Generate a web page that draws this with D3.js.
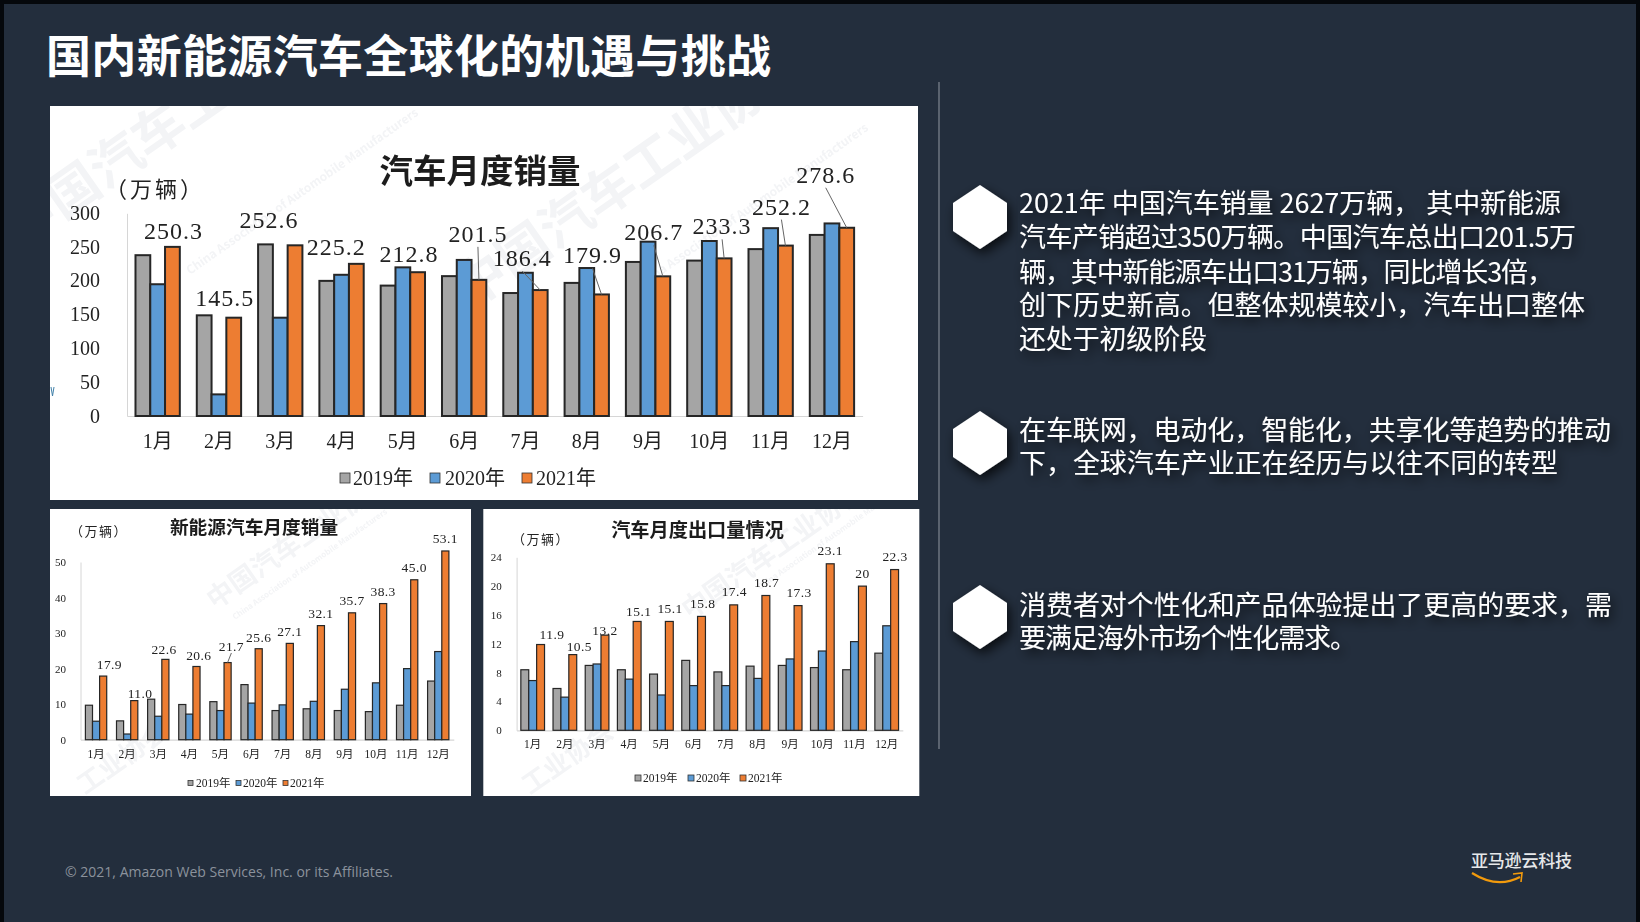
<!DOCTYPE html>
<html><head><meta charset="utf-8">
<script src="https://cdn.jsdelivr.net/npm/d3@7/dist/d3.min.js"></script>
<style>
html,body{margin:0;padding:0;background:#232e3d;overflow:hidden}
svg{display:block}
.serif{font-family:"Liberation Serif","Noto Sans CJK SC",serif}
.cjk{font-family:"Noto Sans CJK SC",sans-serif}
</style></head><body><svg id="c" width="1640" height="922"></svg>
<script>
const months=["1月","2月","3月","4月","5月","6月","7月","8月","9月","10月","11月","12月"];
const years=["2019年","2020年","2021年"];

const main2019=[238,149,254,200,193,207,182,197,228,230,247,268];
const main2020=[195,32,145.5,209,220,231,212,219,258,259,278,285];
const main2021=[250.3,145.5,252.6,225.2,212.8,201.5,186.4,179.9,206.7,233.3,252.2,278.6];
const mainTicks=[0,50,100,150,200,250,300];

const nev2019=[9.7,5.3,11.4,9.9,10.7,15.5,8.2,8.7,8.2,7.9,9.7,16.5];
const nev2020=[5.2,1.6,6.6,7.2,8.2,10.3,9.8,10.8,14.2,16,20,24.8];
const nev2021=[17.9,11.0,22.6,20.6,21.7,25.6,27.1,32.1,35.7,38.3,45.0,53.1];
const nevTicks=[0,10,20,30,40,50];

const exp2019=[8.4,5.8,9,8.4,7.8,9.7,8.1,8.9,9,8.7,8.4,10.7];
const exp2020=[6.9,4.6,9.2,7.1,4.9,6.2,6.2,7.2,9.9,11,12.3,14.5];
const exp2021=[11.9,10.5,13.2,15.1,15.1,15.8,17.4,18.7,17.3,23.1,20,22.3];
const expTicks=[0,4,8,12,16,20,24];

const mainLabels=["250.3","145.5","252.6","225.2","212.8","201.5","186.4","179.9","206.7","233.3","252.2","278.6"];
const nevLabels=["17.9","11.0","22.6","20.6","21.7","25.6","27.1","32.1","35.7","38.3","45.0","53.1"];
const expLabels=["11.9","10.5","13.2","15.1","15.1","15.8","17.4","18.7","17.3","23.1","20","22.3"];

const slideTitle="国内新能源汽车全球化的机遇与挑战";
const bullets=[
 ["2021年 中国汽车销量 2627万辆， 其中新能源","汽车产销超过350万辆。中国汽车总出口201.5万","辆，其中新能源车出口31万辆，同比增长3倍，","创下历史新高。但整体规模较小，汽车出口整体","还处于初级阶段"],
 ["在车联网，电动化，智能化，共享化等趋势的推动","下，全球汽车产业正在经历与以往不同的转型"],
 ["消费者对个性化和产品体验提出了更高的要求，需","要满足海外市场个性化需求。"]
];
const footer="© 2021, Amazon Web Services, Inc. or its Affiliates.";
const brand="亚马逊云科技";

// ---- layout ----
const colors=["#a5a5a5","#5b9bd5","#ed7d31"];
const bulletWidths=[[542,557,535,566,188],[592,539],[593,338]];
const bulletY=[[201,235,270,303,337],[428,461],[603,636]];
const hexY=[217,443,617];

const charts=[
 {panel:[50,106,868,394],series:[main2019,main2020,main2021],labels:mainLabels,ticks:mainTicks,
  yMax:300,xr:[127,862.6],yr:[416,213.3],pad:.277,stroke:2,
  dx:[1,-9,-26,-20,-8.5,-1,-18,-9,-9,-2,-4,-21],dy:[-16,-20,-25,-17,-18,-46,-32,-39,-44,-32,-39,-53],
  leaders:[5,6,7,8,9,10,11],leadGap:13,
  title:"汽车月度销量",tx:480,ty:171,tf:33.5,unit:"（万辆）",ux:155,uy:189,uf:22,ul:3,
  tickF:20,tickX:100,tickDy:-1,monF:20,monY:440.7,lblF:24,lblLs:1,
  legY:478,legF:20,sw:[340,430,522],swW:10,legX:[353,445,536],
  wm:[{t:"中国汽车工业协会",x:20,y:250,f:52,r:-35},{t:"中国汽车工业协会",x:470,y:310,f:52,r:-35},
      {t:"China Association of Automobile Manufacturers",x:190,y:275,f:12,r:-35},
      {t:"China Association of Automobile Manufacturers",x:640,y:290,f:12,r:-35}]},
 {panel:[50,509,421,287],series:[nev2019,nev2020,nev2021],labels:nevLabels,ticks:nevTicks,
  yMax:50,xr:[80.5,453.8],yr:[739.7,562],pad:.315,stroke:1.2,
  dx:[6.2,5.8,-1.3,2.3,3.8,0,0,0,0,0,0,0],dy:[-12,-7,-10,-11,-15.6,-11.7,-12,-12,-12,-12,-12,-12],
  leaders:[4],leadGap:6,
  title:"新能源汽车月度销量",tx:254,ty:527.7,tf:18.7,unit:"（万辆）",ux:99,uy:531,uf:13,ul:1.5,
  tickF:11,tickX:66,tickDy:-.5,monF:11.5,monY:754,lblF:13.5,lblLs:.4,
  legY:783,legF:11.5,sw:[188,236,283],swW:5,legX:[196,243,290],
  wm:[{t:"中国汽车工业协会",x:215,y:610,f:27,r:-35},{t:"工业协会",x:85,y:795,f:26,r:-35},
      {t:"China Association of Automobile Manufacturers",x:235,y:620,f:8,r:-35}]},
 {panel:[483.3,509,436,287],series:[exp2019,exp2020,exp2021],labels:expLabels,ticks:expTicks,
  yMax:24,xr:[516.6,902.8],yr:[730.3,557.3],pad:.264,stroke:1.2,
  dx:[11.4,6.5,0,1.6,.7,1.2,.6,.8,1,0,0,.4],dy:[-10.5,-8.3,-5,-9.5,-12.8,-12.7,-12.9,-12.8,-12.9,-12.8,-12.8,-12.9],
  leaders:[],leadGap:0,
  title:"汽车月度出口量情况",tx:697.5,ty:530,tf:19.2,unit:"（万辆）",ux:541,uy:539,uf:13,ul:1.5,
  tickF:11,tickX:501.7,tickDy:-.5,monF:11.5,monY:744,lblF:13.5,lblLs:.4,
  legY:778,legF:11.5,sw:[635,688,740],swW:6,legX:[643,696,748],
  wm:[{t:"中国汽车工业协会",x:690,y:620,f:27,r:-35},{t:"工业协会",x:530,y:795,f:26,r:-35},
      {t:"China Association of Automobile Manufacturers",x:760,y:590,f:8,r:-35}]}
];

const svg=d3.select("#c");
const defs=svg.append("defs");
defs.append("filter").attr("id","soft").attr("x","-2%").attr("y","-2%").attr("width","104%").attr("height","104%")
  .append("feGaussianBlur").attr("stdDeviation",.7);
const ds=defs.append("filter").attr("id","shadow").attr("x","-20%").attr("y","-40%").attr("width","140%").attr("height","200%");
ds.append("feDropShadow").attr("dx",3).attr("dy",5).attr("stdDeviation",6).attr("flood-color","#000").attr("flood-opacity",.75);

// background with dark slide edge (left, top, right)
svg.append("rect").attr("width",1640).attr("height",922).attr("fill","#05080c");
svg.append("rect").attr("x",4).attr("y",4).attr("width",1632).attr("height",918).attr("fill","#232e3d");

svg.append("text").attr("class","cjk").attr("x",46).attr("y",53.5).attr("dominant-baseline","central")
  .attr("font-size",45).attr("font-weight",700).attr("fill","#fff")
  .attr("textLength",725).text(slideTitle);

svg.append("line").attr("x1",939).attr("x2",939).attr("y1",82).attr("y2",749).attr("stroke","#7f8792").attr("stroke-width",1.2);

charts.forEach((c,ci)=>{
  const [px,py,pw,ph]=c.panel;
  const cid="clip"+ci;
  defs.append("clipPath").attr("id",cid).append("rect").attr("x",px).attr("y",py).attr("width",pw).attr("height",ph);
  const g=svg.append("g").attr("filter","url(#soft)");
  g.append("rect").attr("x",px).attr("y",py).attr("width",pw).attr("height",ph).attr("fill","#fff");

  const wm=g.append("g").attr("clip-path",`url(#${cid})`);
  c.wm.forEach(w=>wm.append("text").attr("class","cjk").attr("transform",`translate(${w.x},${w.y}) rotate(${w.r})`)
      .attr("font-size",w.f).attr("font-weight",700).attr("fill","#f3f4f6").text(w.t));

  const x=d3.scaleBand().domain(months).range(c.xr).paddingInner(c.pad).paddingOuter(c.pad/2);
  const x1=d3.scaleBand().domain(d3.range(3)).range([0,x.bandwidth()]);
  const y=d3.scaleLinear().domain([0,c.yMax]).range(c.yr);

  const ax=g.append("g").attr("transform",`translate(0,${c.yr[0]})`).call(d3.axisBottom(x).tickSize(0).tickPadding(0));
  ax.select(".domain").attr("stroke","#d6d6d6").attr("stroke-width",1.2);
  ax.selectAll("text").attr("class","serif").attr("font-size",c.monF).attr("fill","#222").attr("dy",0)
    .attr("y",c.monY-c.yr[0]).attr("dominant-baseline","central");

  const ay=g.append("g").attr("transform",`translate(${c.xr[0]},0)`).call(d3.axisLeft(y).tickValues(c.ticks).tickSize(0).tickPadding(0));
  ay.select(".domain").attr("stroke","#d6d6d6").attr("stroke-width",1);
  ay.selectAll("text").attr("class","serif").attr("font-size",c.tickF).attr("fill","#222").attr("dy",c.tickDy)
    .attr("x",c.tickX-c.xr[0]).attr("dominant-baseline","central");

  c.series.forEach((vals,si)=>{
    g.append("g").selectAll("rect").data(vals).join("rect")
      .attr("x",(d,i)=>x(months[i])+x1(si))
      .attr("width",x1.bandwidth())
      .attr("y",d=>y(d))
      .attr("height",d=>y(0)-y(d))
      .attr("fill",colors[si]).attr("stroke","#262626").attr("stroke-width",c.stroke);
  });

  const top=c.series[2];
  const bx=i=>x(months[i])+x1(2)+x1.bandwidth()/2;
  g.append("g").selectAll("line").data(c.leaders).join("line")
    .attr("x1",i=>bx(i)+c.dx[i]).attr("y1",i=>y(top[i])+c.dy[i]+c.leadGap)
    .attr("x2",i=>bx(i)).attr("y2",i=>y(top[i]))
    .attr("stroke","#666").attr("stroke-width",1);
  g.append("g").selectAll("text").data(c.labels).join("text").attr("class","serif")
    .attr("x",(d,i)=>bx(i)+c.dx[i]).attr("y",(d,i)=>y(top[i])+c.dy[i])
    .attr("text-anchor","middle").attr("dominant-baseline","central")
    .attr("font-size",c.lblF).attr("letter-spacing",c.lblLs).attr("fill","#222").text(d=>d);

  g.append("text").attr("class","serif").attr("x",c.tx).attr("y",c.ty).attr("text-anchor","middle")
    .attr("dominant-baseline","central").attr("font-size",c.tf).attr("font-weight",700).attr("fill","#1c1c1c").text(c.title);
  g.append("text").attr("class","serif").attr("x",c.ux).attr("y",c.uy).attr("text-anchor","middle")
    .attr("dominant-baseline","central").attr("font-size",c.uf).attr("letter-spacing",c.ul).attr("fill","#222").text(c.unit);

  years.forEach((yr,i)=>{
    g.append("rect").attr("x",c.sw[i]).attr("y",c.legY-c.swW/2).attr("width",c.swW).attr("height",c.swW)
      .attr("fill",colors[i]).attr("stroke","#333").attr("stroke-width",.8);
    g.append("text").attr("class","serif").attr("x",c.legX[i]).attr("y",c.legY).attr("dominant-baseline","central")
      .attr("font-size",c.legF).attr("fill","#222").text(yr);
  });
});

// small stray mark on the left edge of the large picture
svg.append("path").attr("d","M51,387 L52.5,396 L54,387").attr("fill","none").attr("stroke","#3f7fa8").attr("stroke-width",1);

// hexagons
const hw=27,hh=32,hs=14;
const hexLine=d3.line().x(d=>d[0]).y(d=>d[1]);
svg.append("g").selectAll("path").data(hexY).join("path")
  .attr("d",cy=>hexLine([[980,cy-hh],[980+hw,cy-hs],[980+hw,cy+hs],[980,cy+hh],[980-hw,cy+hs],[980-hw,cy-hs]])+"Z")
  .attr("fill","#fff").attr("filter","url(#shadow)");

// bullet text
const tg=svg.append("g").attr("filter","url(#shadow)");
bullets.forEach((lines,b)=>lines.forEach((s,l)=>{
  tg.append("text").attr("class","cjk").attr("x",1019).attr("y",bulletY[b][l]).attr("dominant-baseline","central")
    .attr("font-size",27).attr("fill","#fff").attr("textLength",bulletWidths[b][l]).text(s);
}));

// footer
svg.append("text").attr("x",65).attr("y",871).attr("dominant-baseline","central")
  .attr("font-family","'Open Sans',sans-serif").attr("font-size",14).attr("fill","#8b929c").attr("textLength",328).text(footer);

// brand
svg.append("text").attr("class","cjk").attr("x",1471).attr("y",859).attr("dominant-baseline","central")
  .attr("font-size",17).attr("font-weight",500).attr("fill","#e6e8ea").attr("textLength",101).text(brand);
svg.append("path").attr("d","M1472,873 Q1497,889 1520,877").attr("fill","none").attr("stroke","#f29a0c").attr("stroke-width",2.2);
svg.append("path").attr("d","M1513,874 L1522,873 L1521,882").attr("fill","none").attr("stroke","#f29a0c").attr("stroke-width",1.6);
</script></body></html>
